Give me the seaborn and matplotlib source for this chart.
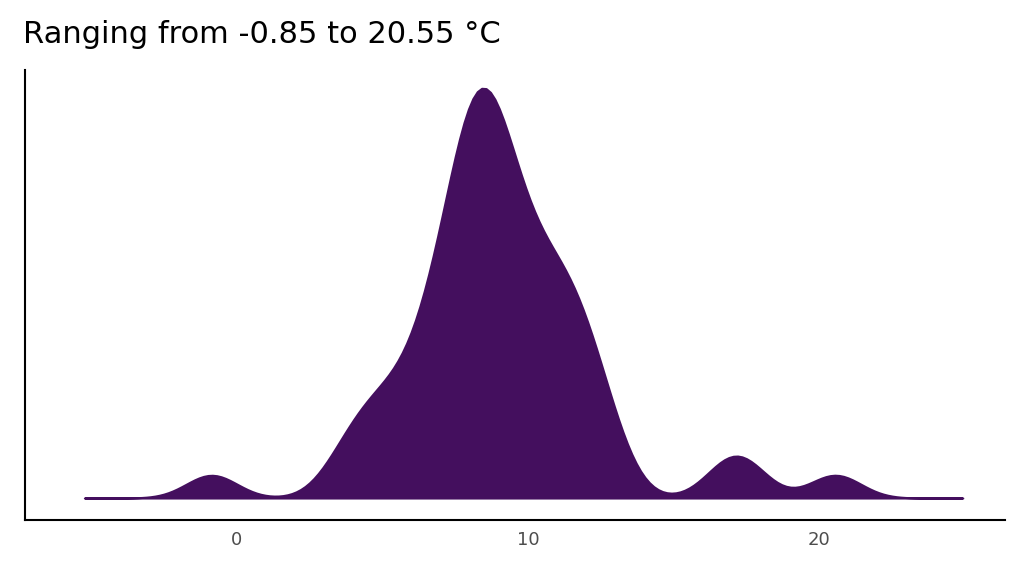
import numpy as np
import matplotlib.pyplot as plt
import seaborn as sns

# temperatures (°C)
temps = [-0.85,
         3.6, 4.2, 4.7, 5.1, 5.5,
         6.0, 6.3, 6.6, 6.8, 7.0, 7.2, 7.4, 7.6, 7.7, 7.8, 7.9, 8.0, 8.1, 8.2,
         8.3, 8.4, 8.5, 8.6, 8.7, 8.8, 8.9, 9.0, 9.1, 9.3, 9.4, 9.6, 9.7, 9.9,
         10.1, 10.3, 10.5, 10.7, 10.9, 11.1, 11.3, 11.5, 11.7, 11.9, 12.2,
         12.5, 12.9,
         16.8, 17.5,
         20.55]
title = "Ranging from -0.85 to 20.55 °C"

sns.set_style("white")
fig = plt.figure(figsize=(10.24, 5.76), dpi=100)
ax = fig.add_axes([0.024, 0.097, 0.957, 0.781])
sns.kdeplot(x=temps, fill=True, color="#440F5E", alpha=1, linewidth=1.5,
            bw_adjust=0.55, cut=5, ax=ax)

ymax = ax.collections[0].get_paths()[0].vertices[:, 1].max()
ax.set_ylim(-0.054 * ymax, 1.044 * ymax)
ax.set_xlim(-7.27, 26.35)
ax.set_xticks([0, 10, 20])
ax.set_yticks([])
ax.set_xlabel("")
ax.set_ylabel("")
ax.tick_params(axis="x", labelsize=13, length=4, labelcolor="#4d4d4d", color="#333333")
for s in ["top", "right"]:
    ax.spines[s].set_visible(False)
for s in ["left", "bottom"]:
    ax.spines[s].set_color("black")
    ax.spines[s].set_linewidth(1.5)
fig.text(0.022, 0.915, title, fontsize=22, ha="left", va="bottom", color="black")
fig.savefig("out.png", dpi=100)
